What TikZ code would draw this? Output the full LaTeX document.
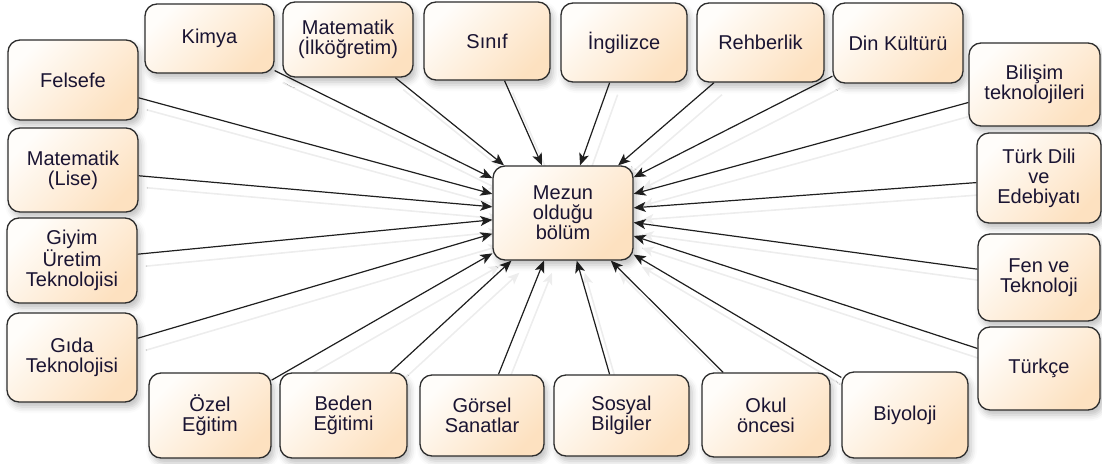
\documentclass[tikz,border=0pt]{standalone}
\usepackage{fontspec}
\setmainfont{Liberation Sans}
\usetikzlibrary{arrows.meta,shadows.blur}
\definecolor{txt}{RGB}{26,20,50}
\definecolor{peachA}{RGB}{255,253,250}
\definecolor{peachB}{RGB}{253,225,192}
\definecolor{bord}{RGB}{45,45,45}
\pgfdeclarelayer{bg}
\pgfsetlayers{bg,main}
\tikzset{
  box/.style={draw=bord, line width=1.3pt, rounded corners=12pt,
    top color=peachA, bottom color=peachB, shading angle=45,
    text=txt, font=\fontsize{20}{20}\selectfont, align=center, inner sep=2pt,
    blur shadow={shadow xshift=3pt, shadow yshift=-5pt, shadow blur radius=6pt, shadow opacity=25}},
  conn/.style={-{Stealth[length=12pt,width=10pt,inset=3pt]}, line width=1.2pt, draw=black!88,
    preaction={draw=black!7, line width=1.6pt, transform canvas={xshift=8pt,yshift=-12pt}}},
}
\begin{document}
\begin{tikzpicture}[x=1pt,y=-1pt]
\useasboundingbox (0,0) rectangle (1102,463);
% left column
\node[box, minimum width=130, minimum height=80] (felsefe) at (73,80) {Felsefe};
\node[box, minimum width=130, minimum height=84] (matlise) at (73,170) {Matematik\\(Lise)};
\node[box, minimum width=130, minimum height=85] (giyim) at (72,260.5) {Giyim\\Üretim\\Teknolojisi};
\node[box, minimum width=130, minimum height=89] (gida) at (72,357.5) {Gıda\\Teknolojisi};
% top row
\node[box, minimum width=129, minimum height=69] (kimya) at (209.5,38.5) {Kimya};
\node[box, minimum width=130, minimum height=75] (matilk) at (348,39.5) {Matematik\\(İlköğretim)};
\node[box, minimum width=126, minimum height=78] (sinif) at (487,41) {Sınıf};
\node[box, minimum width=126, minimum height=79] (ingilizce) at (624,42.5) {İngilizce};
\node[box, minimum width=127, minimum height=79] (rehberlik) at (760.5,42.5) {Rehberlik};
\node[box, minimum width=130, minimum height=80] (din) at (898,43) {Din Kültürü};
% right column
\node[box, minimum width=131, minimum height=83] (bilisim) at (1034.5,84.5) {Bilişim\\teknolojileri};
\node[box, minimum width=124, minimum height=90] (turkdili) at (1039,178) {Türk Dili\\ve\\Edebiyatı};
\node[box, minimum width=122, minimum height=87] (fen) at (1039,277.5) {Fen ve\\Teknoloji};
\node[box, minimum width=122, minimum height=83] (turkce) at (1039,368.5) {Türkçe};
% bottom row
\node[box, minimum width=126, minimum height=86] (biyoloji) at (905,415) {Biyoloji};
\node[box, minimum width=128, minimum height=84] (okul) at (766,415) {Okul\\öncesi};
\node[box, minimum width=135, minimum height=81] (sosyal) at (621.5,415.5) {Sosyal\\Bilgiler};
\node[box, minimum width=124, minimum height=81] (gorsel) at (482,415.5) {Görsel\\Sanatlar};
\node[box, minimum width=127, minimum height=85] (beden) at (343.5,415.5) {Beden\\Eğitimi};
\node[box, minimum width=122, minimum height=85] (ozel) at (210,415.5) {Özel\\Eğitim};
% centre
\node[box, minimum width=140, minimum height=94] (mezun) at (563,213) {Mezun\\olduğu\\bölüm};
\begin{pgfonlayer}{bg}
\foreach \s in {felsefe,matlise,giyim,gida,kimya,matilk,sinif,ingilizce,rehberlik,din,bilisim,turkdili,fen,turkce,biyoloji,okul,sosyal,gorsel,beden,ozel}
  \draw[conn] (\s) -- (mezun);
\end{pgfonlayer}
\end{tikzpicture}
\end{document}
